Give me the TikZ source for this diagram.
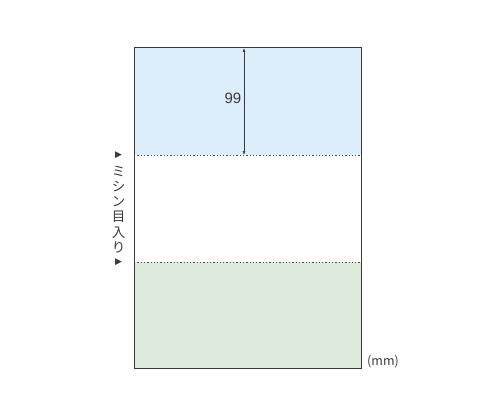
\documentclass[tikz,border=0pt]{standalone}
\usepackage{fontspec}
\setmainfont{Liberation Sans}
\newfontfamily\cjk{Noto Sans CJK JP}
\newfontfamily\djv{DejaVu Sans}
\usetikzlibrary{arrows.meta}
\definecolor{paperblue}{HTML}{DCEEFA}
\definecolor{papergreen}{HTML}{DDEBDD}
\definecolor{edge}{HTML}{3A3A3A}
\tikzset{
  perf/.style={draw=edge!90, line width=1pt, dash pattern=on 1.3pt off 2pt},
  dim/.style={draw=edge, line width=0.6pt, {Latex[length=4pt,width=3pt]}-{Latex[length=4pt,width=3pt]}},
  tri/.style={font=\djv\fontsize{9}{9}\selectfont, text=edge, inner sep=0pt}
}
\begin{document}
\begin{tikzpicture}[x=1pt,y=-1pt]
\useasboundingbox (0,0) rectangle (500,417);
\fill[white] (0,0) rectangle (500,417);
% panels
\fill[paperblue] (134,48) rectangle (361,155);
\fill[papergreen] (134,262) rectangle (361,368);
\draw[perf] (134,155) -- (361,155);
\draw[perf] (134,262) -- (361,262);
\draw[edge, line width=1pt] (134,48) rectangle (361,368);
% dimension
\coordinate (dtop) at (244,48);
\coordinate (dbot) at (244,155);
\draw[dim] (dtop) -- (dbot);
\node[font=\fontsize{15}{15}\selectfont, text=edge, anchor=east, inner sep=0pt] (n99) at (241.5,98.5) {99};
% perforation label
\node[tri] (t1) at (118.5,155.5) {▶};
\node[font=\cjk\fontsize{13.5}{15.3}\selectfont, text=edge, align=center, inner sep=0pt] (perflabel) at (118.5,209.5) {ミ\\シ\\ン\\目\\入\\り};
\node[tri] (t2) at (118.5,262.5) {▶};
% unit
\node[font=\cjk\fontsize{12.5}{12.5}\selectfont, text=edge, inner sep=0pt] (unit) at (383,362) {(mm)};
\end{tikzpicture}
\end{document}
